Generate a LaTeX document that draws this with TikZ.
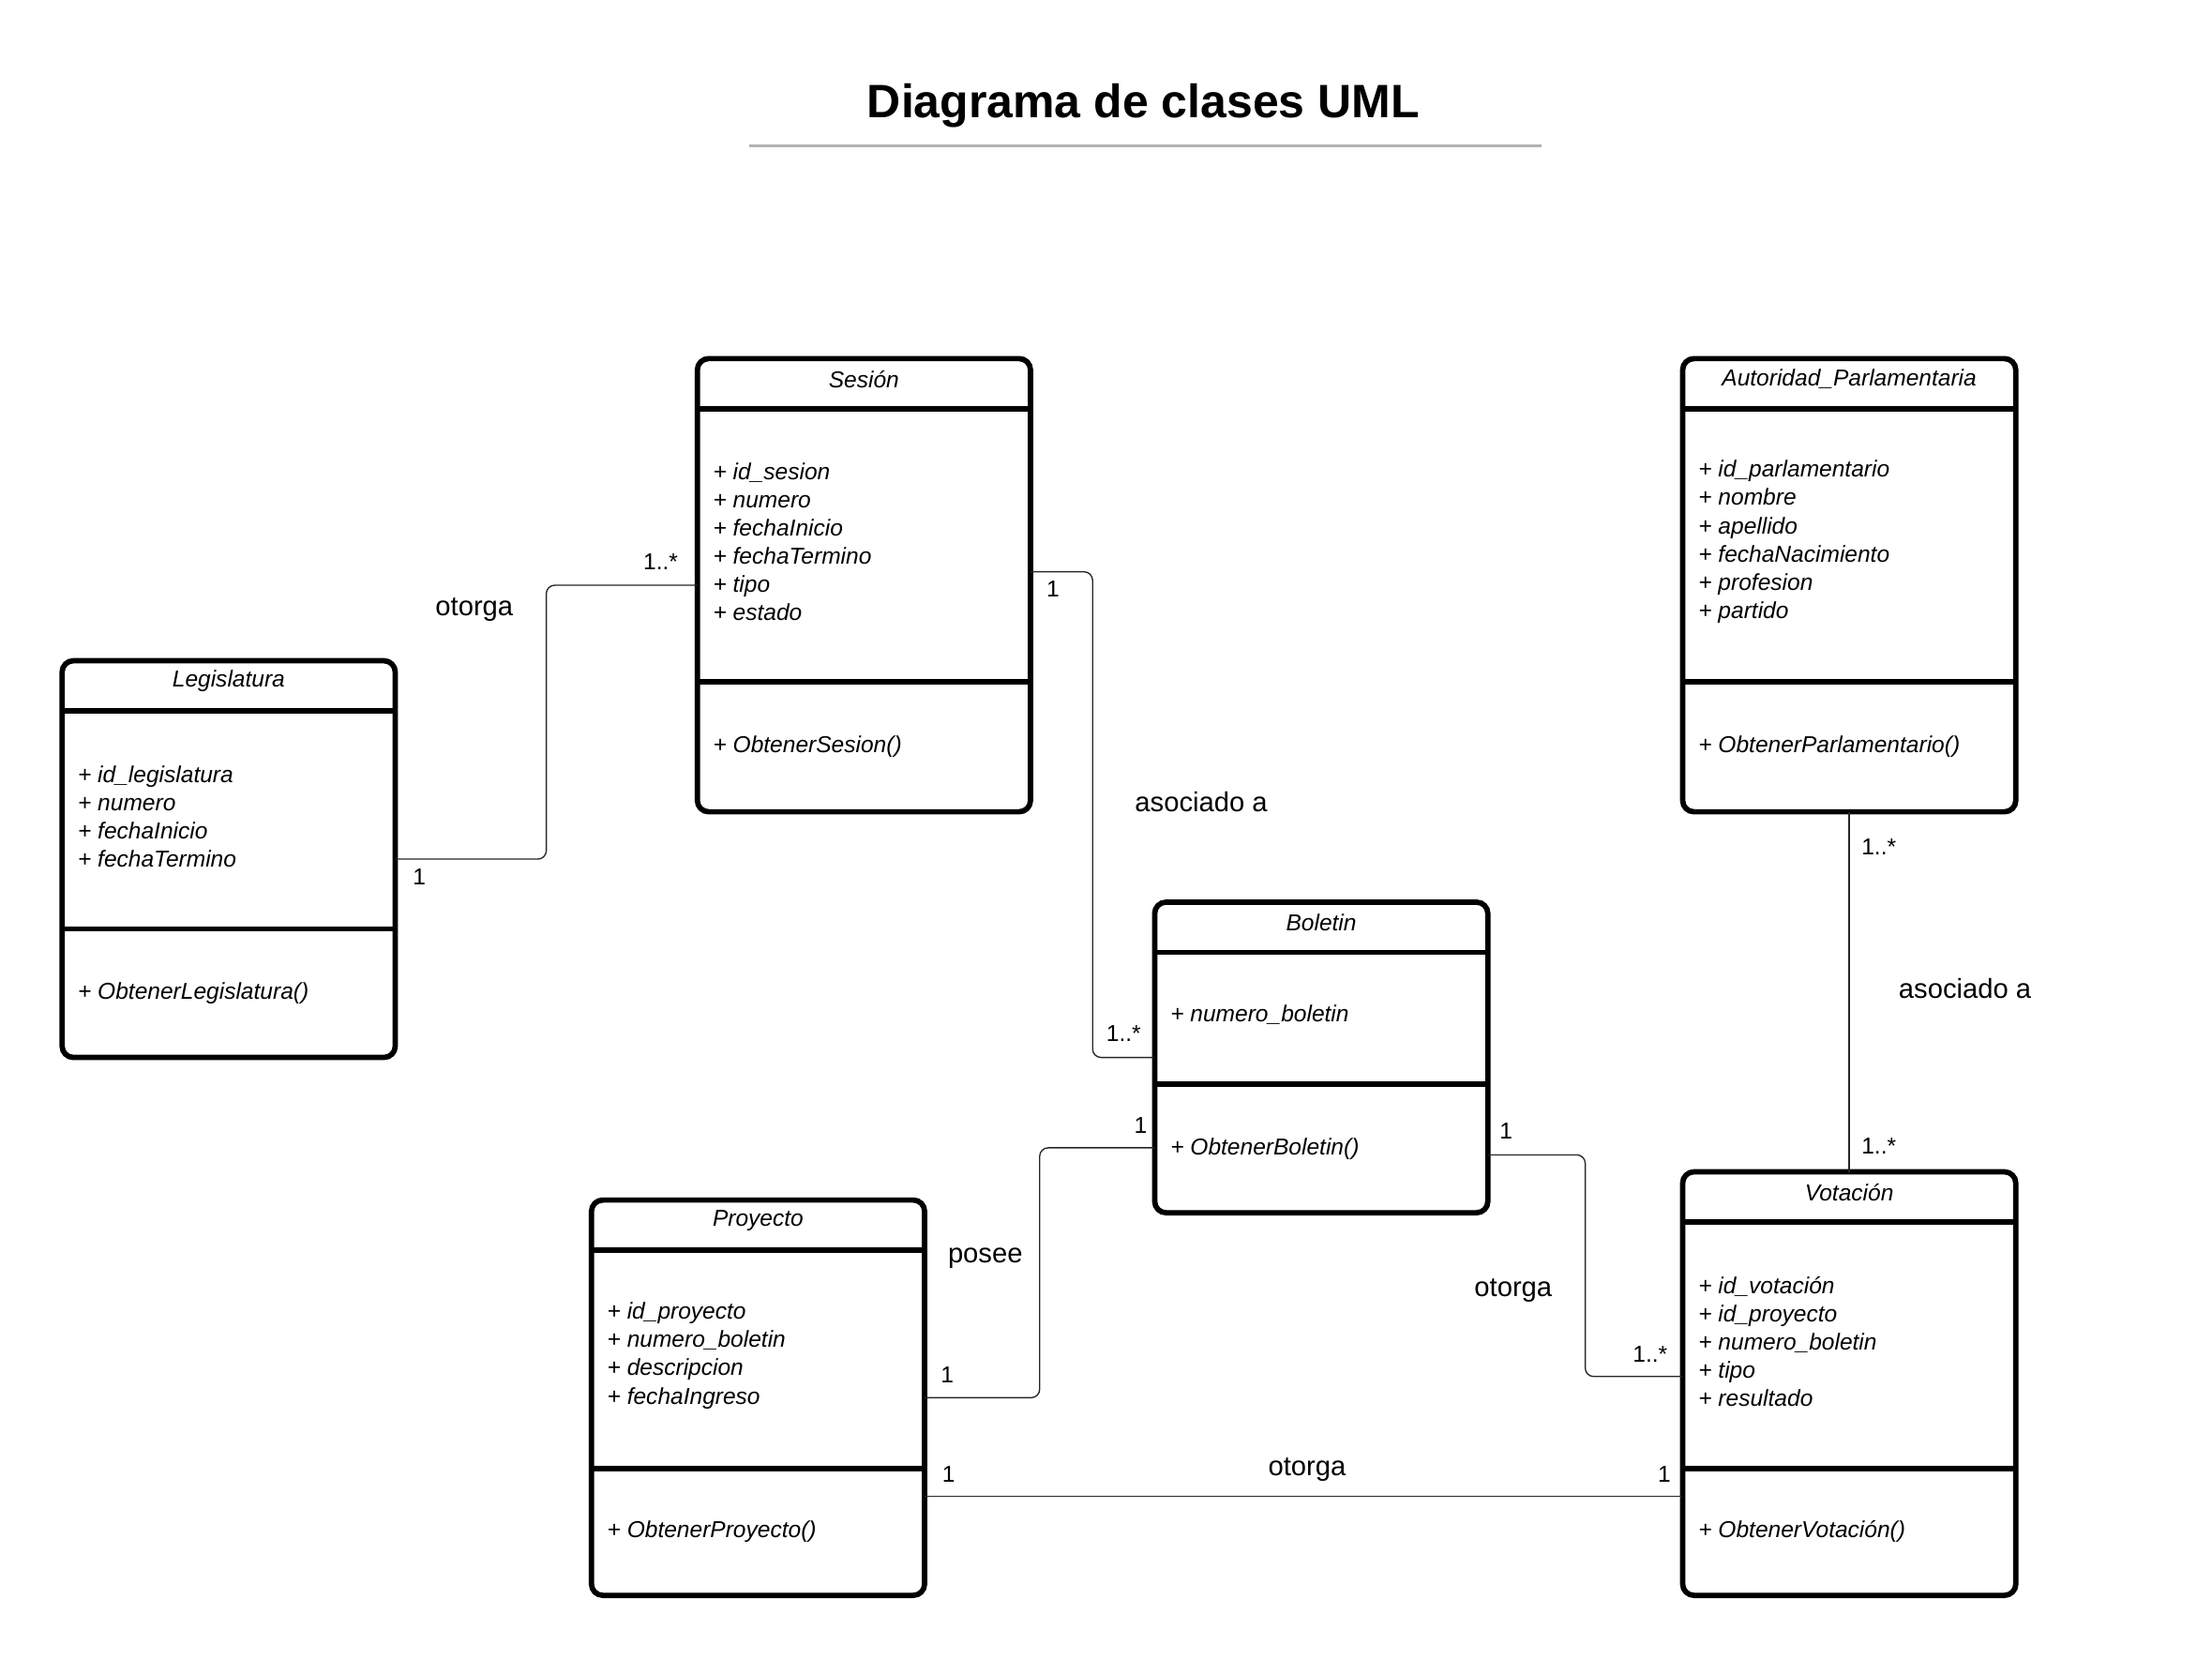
\documentclass[tikz,border=0pt]{standalone}
\usepackage{fontspec}
\setmainfont{Liberation Sans}
\usetikzlibrary{
    positioning,           % Relative positioning
    calc                   % Coordinate calculations
}

\tikzset{
    classbox/.style={draw, line width=3.8pt, rounded corners=8pt, minimum width=236pt, inner sep=0pt, outer sep=0pt},
    rule/.style={line width=3.8pt},
    classname/.style={font=\fontsize{16.3}{20}\selectfont\itshape, inner sep=0pt},
    members/.style={font=\fontsize{16.3}{20}\selectfont\itshape, align=left, anchor=west, inner sep=0pt},
    assoc/.style={draw=black!85, line width=0.9pt, rounded corners=6pt},
    zigzag/.style={to path={-| ($(\tikztostart)!.5!(\tikztotarget)$) |- (\tikztotarget)}},
    mult/.style={font=\fontsize{16.3}{20}\selectfont, inner sep=0pt},
    role/.style={font=\fontsize{19.4}{23}\selectfont, inner sep=0pt}
}

% name, top left corner, height, separator depth, title, attributes, methods
\newcommand{\umlclass}[7]{%
    \node[classbox, minimum height=#3, anchor=north west] (#1) at (#2) {};
    \draw[rule] ([yshift=-35.5pt]#1.north west) -- ([yshift=-35.5pt]#1.north east);
    \draw[rule] ([yshift=-#4]#1.north west) -- ([yshift=-#4]#1.north east);
    \node[classname] (#1-title) at ([yshift=-14.5pt]#1.north) {#5};
    \node[members] (#1-attrs) at ([xshift=11pt,yshift={2.5pt-(35.5pt+#4)/2}]#1.north west) {#6};
    \node[members] (#1-ops) at ([xshift=11pt,yshift={-(#4+#3)/2}]#1.north west) {#7};
}

\begin{document}
\begin{tikzpicture}[x=1pt,y=-1pt]
    \useasboundingbox (0,0) rectangle (1567,1175);

    \node[font=\fontsize{33.2}{40}\selectfont\bfseries] (title) at (810,75) {Diagrama de clases UML};
    \draw[black!30, line width=2pt] (531,103) -- (1092,103);

    \umlclass{sesion}{494,254}{321pt}{229pt}{Sesión}
        {+ id\_sesion\\+ numero\\+ fechaInicio\\+ fechaTermino\\+ tipo\\+ estado}{+ ObtenerSesion()}
    \umlclass{legislatura}{44,468}{281pt}{190pt}{Legislatura}
        {+ id\_legislatura\\+ numero\\+ fechaInicio\\+ fechaTermino}{+ ObtenerLegislatura()}
    \umlclass{autoridad}{1192,254}{321pt}{229pt}{Autoridad\_Parlamentaria}
        {+ id\_parlamentario\\+ nombre\\+ apellido\\+ fechaNacimiento\\+ profesion\\+ partido}{+ ObtenerParlamentario()}
    \umlclass{boletin}{818,639}{220pt}{129pt}{Boletin}
        {+ numero\_boletin}{+ ObtenerBoletin()}
    \umlclass{proyecto}{419,850}{280pt}{190pt}{Proyecto}
        {+ id\_proyecto\\+ numero\_boletin\\+ descripcion\\+ fechaIngreso}{+ ObtenerProyecto()}
    \umlclass{votacion}{1192,830}{300pt}{210pt}{Votación}
        {+ id\_votación\\+ id\_proyecto\\+ numero\_boletin\\+ tipo\\+ resultado}{+ ObtenerVotación()}

    \draw[assoc] (legislatura.east) to[zigzag] (sesion.west);
    \draw[assoc] ([yshift=9.5pt]sesion.east) to[zigzag] (boletin.west);
    \draw[assoc] ([yshift=-64pt]boletin.west) to[zigzag] (proyecto.east);
    \draw[assoc] ([yshift=-69pt]boletin.east) to[zigzag] ([yshift=5pt]votacion.west);
    \draw[assoc] (autoridad.south) -- (votacion.north);
    \coordinate (pv) at ([yshift=-70pt]proyecto.east);
    \draw[assoc] (pv) -- (pv -| votacion.west);

    \node[mult] (ls1) at (297,621) {1};
    \node[mult] (ls2) at (468,398) {1..*};
    \node[role] (ls) at (336,432) {otorga};
    \node[mult] (sb1) at (746,417) {1};
    \node[mult] (sb2) at (796,732) {1..*};
    \node[role] (sb) at (851,568) {asociado a};
    \node[mult] (bp1) at (808,797) {1};
    \node[mult] (bp2) at (671,974) {1};
    \node[role] (bp) at (698,891) {posee};
    \node[mult] (bv1) at (1067,801) {1};
    \node[mult] (bv2) at (1169,959) {1..*};
    \node[role] (bv) at (1072,914) {otorga};
    \node[mult] (av1) at (1331,600) {1..*};
    \node[mult] (av2) at (1331,812) {1..*};
    \node[role] (av) at (1392,700) {asociado a};
    \node[mult] (pv1) at (672,1044) {1};
    \node[mult] (pv2) at (1179,1044) {1};
    \node[role] (pvl) at (926,1041) {otorga};
\end{tikzpicture}
\end{document}
